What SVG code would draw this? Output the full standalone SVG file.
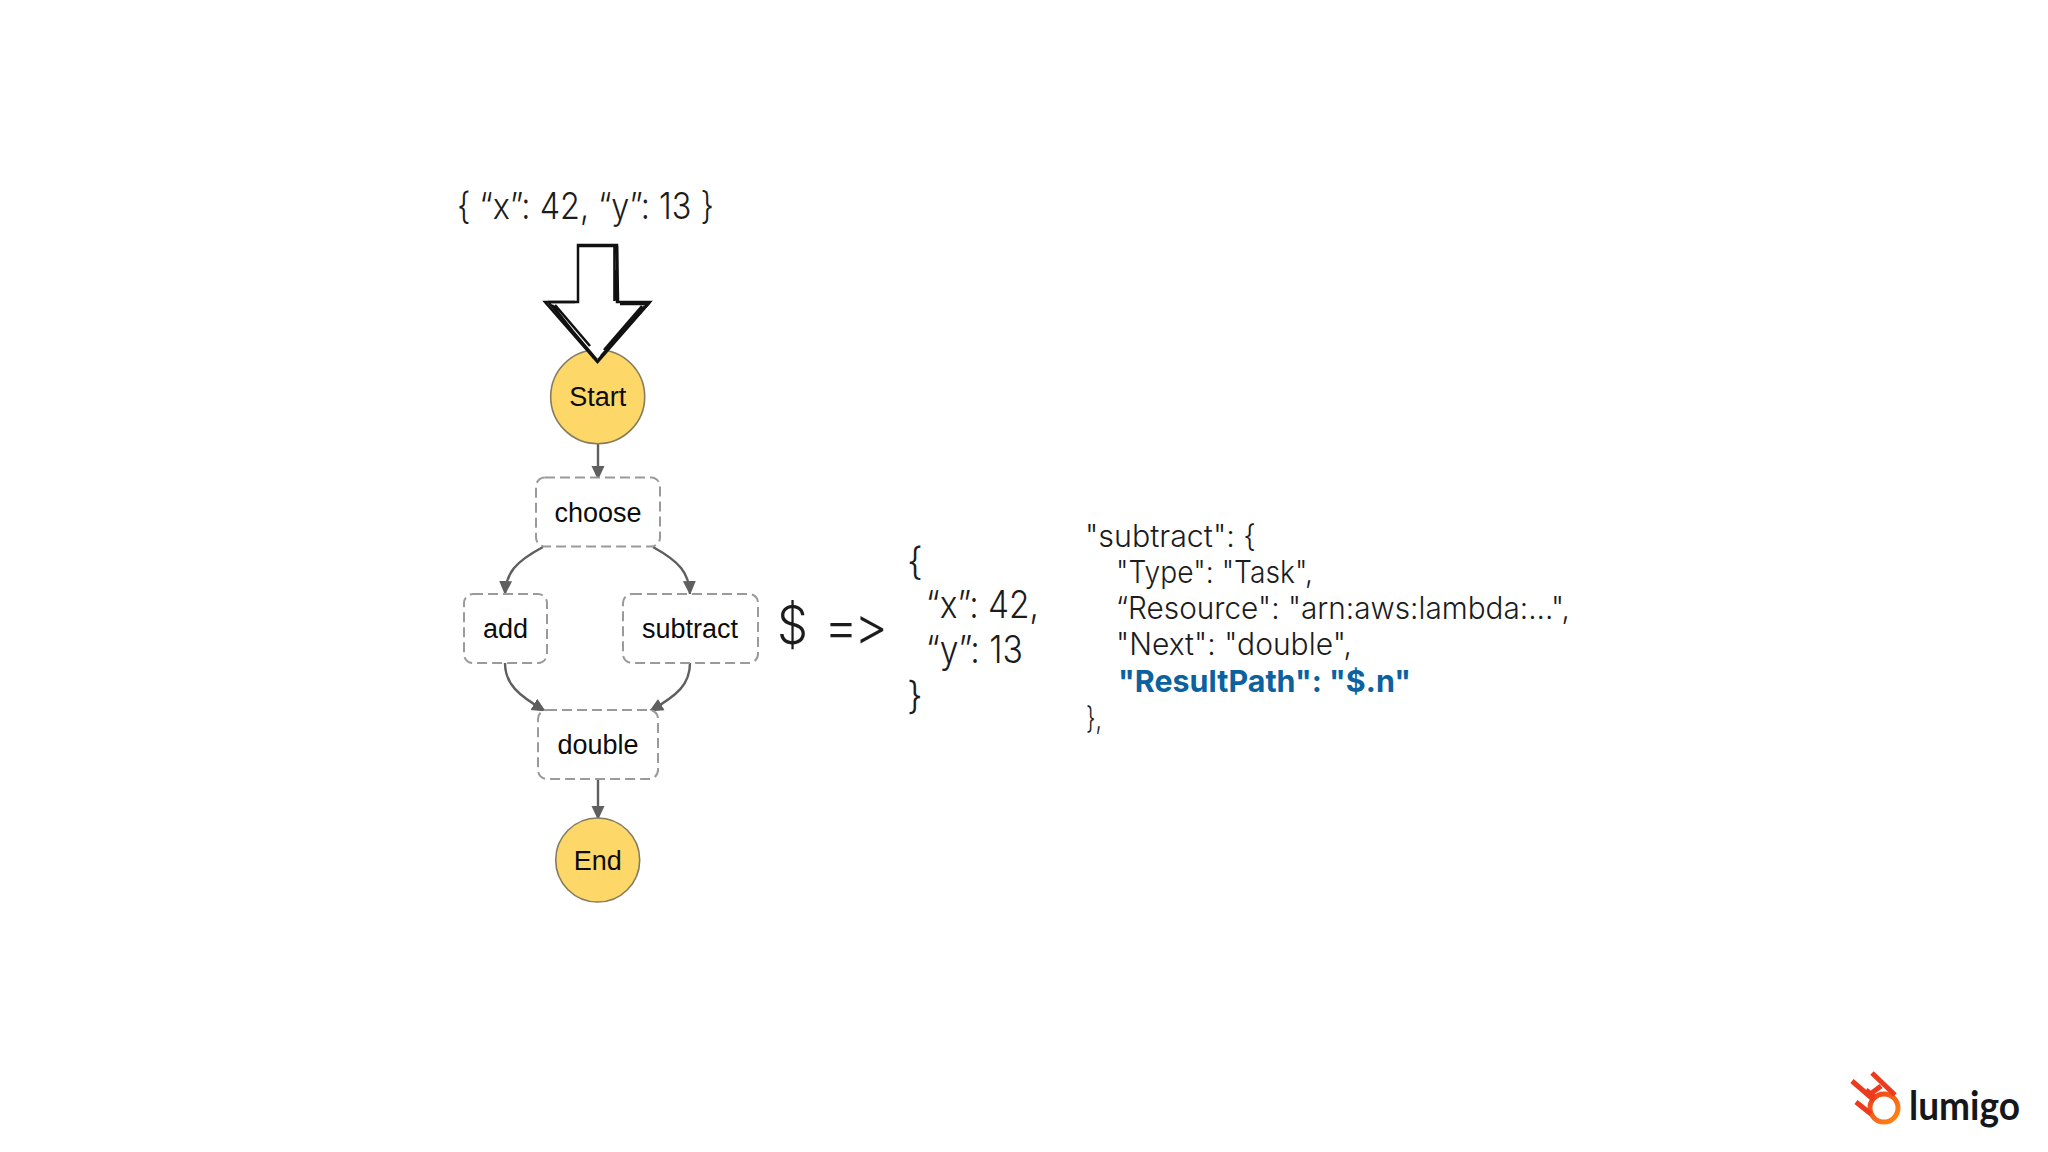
<svg xmlns="http://www.w3.org/2000/svg" width="2048" height="1152" viewBox="0 0 2048 1152">
<style>
.lt{font-family:"Inter","Liberation Sans",sans-serif;font-weight:300;fill:#1c1c1c;font-variant-ligatures:none;font-feature-settings:"calt" 0,"liga" 0}
.nd{font-family:"Liberation Sans",Arial,sans-serif;font-size:27px;fill:#0c0c0c;text-anchor:middle}
.box{fill:#fff;stroke:#9a9a9a;stroke-width:2;stroke-dasharray:10 5}
.circ{fill:#fdd868;stroke:#857c5e;stroke-width:1.6}
.con{fill:none;stroke:#5f5f5f;stroke-width:2.4;marker-end:url(#ah)}
.js{font-size:30.5px}
</style>
<defs>
<marker id="ah" markerUnits="userSpaceOnUse" markerWidth="14" markerHeight="14" refX="13" refY="7" orient="auto"><path d="M0 0.5L14 7L0 13.5Z" fill="#5f5f5f"/></marker>
<linearGradient id="lg" x1="0" y1="0" x2="1" y2="1"><stop offset="0" stop-color="#f0401a"/><stop offset="1" stop-color="#ff8a14"/></linearGradient>
</defs>
<rect width="2048" height="1152" fill="#fff"/>
<g id="connectors">
<path class="con" d="M598 444V479"/>
<path class="con" d="M543 547C515 562 506 573 505 594"/>
<path class="con" d="M653 547C680 562 689 573 690 594"/>
<path class="con" d="M505 663C505 684 518 695 545 711"/>
<path class="con" d="M690 663C690 684 678 695 650 711"/>
<path class="con" d="M598 779V819"/>
</g>
<g id="node-start"><circle class="circ" cx="597.7" cy="396.7" r="47"/><text class="nd" x="597.7" y="406">Start</text></g>
<g id="node-choose"><rect class="box" x="536" y="477.500" width="124" height="69" rx="9"/><text class="nd" x="598" y="522">choose</text></g>
<g id="node-add"><rect class="box" x="464" y="594" width="83" height="69" rx="9"/><text class="nd" x="505.500" y="638">add</text></g>
<g id="node-subtract"><rect class="box" x="623" y="594" width="135" height="69" rx="9"/><text class="nd" x="690" y="638">subtract</text></g>
<g id="node-double"><rect class="box" x="538" y="710" width="120" height="69" rx="9"/><text class="nd" x="598" y="754">double</text></g>
<g id="node-end"><circle class="circ" cx="597.700" cy="860" r="42"/><text class="nd" x="597.700" y="870">End</text></g>
<g id="big-arrow">
<path d="M578 245H617V302H650L597.500 362L545 302H578Z" fill="#fff" stroke="#111" stroke-width="2.500" stroke-linejoin="miter"/>
<path d="M617 246L618 302M620 304H648L598 360M601 356L645 306M604 350L642 306M549 303L597 360M552 305L594 358M555 305L590 346M548 302H575M578 246H617M614.500 246V301M616 270V300" fill="none" stroke="#111" stroke-width="2.600"/>
</g>
<text class="lt" x="457" y="219" font-size="37" textLength="257" lengthAdjust="spacingAndGlyphs">{ “x”: 42, “y”: 13 }</text>
<text class="lt" x="777" y="644" font-size="54" textLength="31" lengthAdjust="spacingAndGlyphs">$</text>
<text class="lt" x="824" y="645" font-size="52" letter-spacing="-4">=&gt;</text>
<g class="lt" font-size="38">
<text x="907" y="575">{</text>
<text x="926" y="618" textLength="113" lengthAdjust="spacingAndGlyphs">“x”: 42,</text>
<text x="926" y="663" textLength="97" lengthAdjust="spacingAndGlyphs">“y”: 13</text>
<text x="907" y="709">}</text>
</g>
<g class="lt js">
<text x="1085" y="547" textLength="171" lengthAdjust="spacingAndGlyphs">"subtract": {</text>
<text x="1116" y="583" textLength="197" lengthAdjust="spacingAndGlyphs">"Type": "Task",</text>
<text x="1116" y="619" textLength="454" lengthAdjust="spacingAndGlyphs">“Resource": "arn:aws:lambda:...",</text>
<text x="1116" y="655" textLength="236" lengthAdjust="spacingAndGlyphs">"Next": "double",</text>
<text x="1118" y="692" textLength="293" lengthAdjust="spacingAndGlyphs" style="font-weight:700;fill:#0b629f">"ResultPath": "$.n"</text>
<text x="1086" y="729" textLength="16" lengthAdjust="spacingAndGlyphs">},</text>
</g>
<g id="logo">
<circle cx="1884" cy="1108" r="14" fill="none" stroke="url(#lg)" stroke-width="5"/>
<path d="M1852 1081L1874 1100M1872 1073L1895 1095M1856 1102L1871 1114M1869 1095L1881 1086M1866 1090L1874 1097" fill="none" stroke="#ee3a1c" stroke-width="5"/>
<text x="1909" y="1120" font-family="Lato,'Open Sans',sans-serif" font-size="40" font-weight="700" fill="#14181c" textLength="111" lengthAdjust="spacingAndGlyphs">lumigo</text>
</g>
</svg>
